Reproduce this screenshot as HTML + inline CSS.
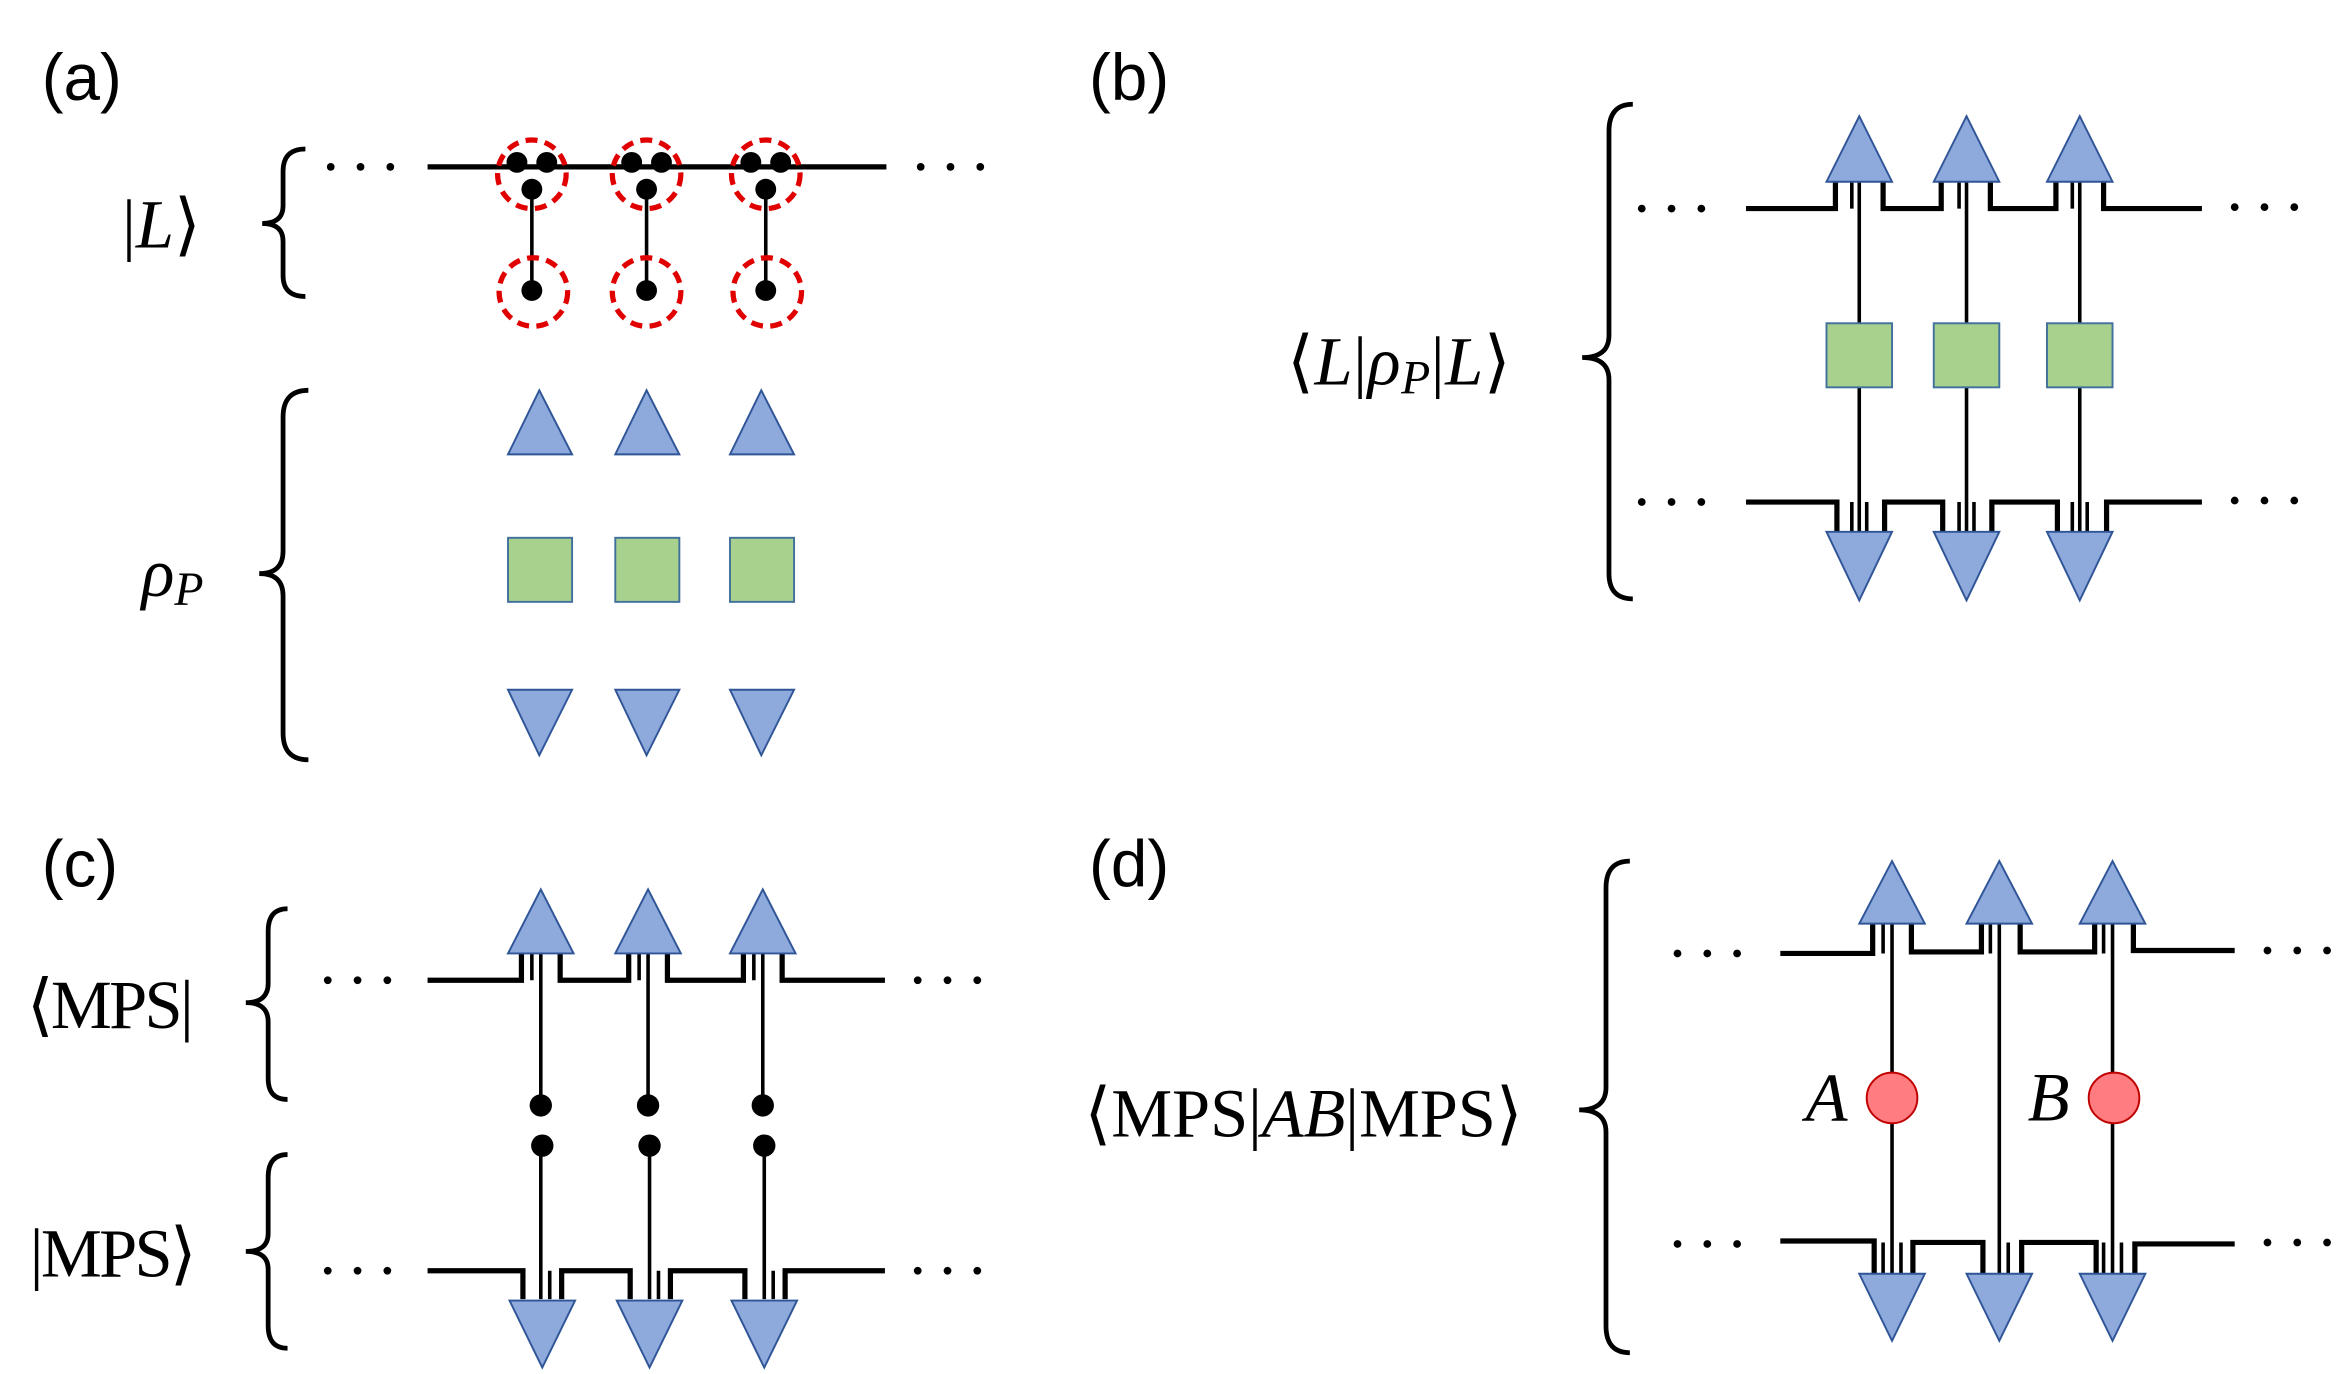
<!DOCTYPE html>
<html><head><meta charset="utf-8"><style>
html,body{margin:0;padding:0;background:#fff;}
svg{display:block;}
.lab{font-family:"Liberation Sans",sans-serif;font-size:44px;fill:#000;}
.m{font-family:"Liberation Serif",serif;font-size:46px;fill:#000;}
.w{fill:none;stroke:#000;stroke-width:3.5;}
.t{fill:none;stroke:#000;stroke-width:2.4;}
.br{fill:none;stroke:#000;stroke-width:3.2;}
.tri{fill:#8EA9DB;stroke:#2F5597;stroke-width:1.3;}
.sq{fill:#A9D18E;stroke:#41719C;stroke-width:1.3;}
.rc{fill:none;stroke:#E00000;stroke-width:3.5;stroke-dasharray:8 5;}
</style></head><body>
<svg width="2336" height="1374" viewBox="0 0 1568 922.3" preserveAspectRatio="none" xmlns="http://www.w3.org/2000/svg">
<defs>
<g id="dots"><circle cx="0" cy="0" r="2.6"/><circle cx="20" cy="0" r="2.6"/><circle cx="40" cy="0" r="2.6"/></g>
</defs>

<!-- (a) -->
<text class="lab" x="28" y="67">(a)</text>
<path class="br" d="M205 100 Q190 100 190 115 V138 Q190 150 176 150 Q190 150 190 162 V185 Q190 199 205 199"/>
<text class="m" x="82" y="166">|<tspan font-style="italic">L</tspan>⟩</text>
<use href="#dots" x="222" y="112"/><use href="#dots" x="618" y="112"/>
<path class="w" d="M287 112 L595 112"/>
<g>
 <path class="t" d="M357 128 V195 M434 128 V195 M514 128 V195"/>
 <circle cx="347" cy="109" r="7"/><circle cx="367" cy="109" r="7"/><circle cx="357" cy="127" r="7"/><circle cx="357" cy="195" r="7"/>
 <circle cx="424" cy="109" r="7"/><circle cx="444" cy="109" r="7"/><circle cx="434" cy="127" r="7"/><circle cx="434" cy="195" r="7"/>
 <circle cx="504" cy="109" r="7"/><circle cx="524" cy="109" r="7"/><circle cx="514" cy="127" r="7"/><circle cx="514" cy="195" r="7"/>
 <circle class="rc" cx="357" cy="117" r="23"/><circle class="rc" cx="434" cy="117" r="23"/><circle class="rc" cx="514" cy="117" r="23"/>
 <circle class="rc" cx="358" cy="196" r="23"/><circle class="rc" cx="434" cy="196" r="23"/><circle class="rc" cx="515" cy="196" r="23"/>
</g>
<path class="br" d="M207 262 Q190 262 190 280 V370 Q190 385 174 385 Q190 385 190 400 V492 Q190 510 207 510"/>
<text class="m" x="95" y="400"><tspan font-style="italic">ρ</tspan><tspan font-style="italic" font-size="32" dy="6">P</tspan></text>
<polygon class="tri" points="341,305 384,305 362,262"/>
<polygon class="tri" points="413,305 456,305 434,262"/>
<polygon class="tri" points="490,305 533,305 511,262"/>
<rect class="sq" x="341" y="361" width="43" height="43"/>
<rect class="sq" x="413" y="361" width="43" height="43"/>
<rect class="sq" x="490" y="361" width="43" height="43"/>
<polygon class="tri" points="341,463 384,463 362,507"/>
<polygon class="tri" points="413,463 456,463 434,507"/>
<polygon class="tri" points="490,463 533,463 511,507"/>

<!-- (b) -->
<text class="lab" x="731" y="67">(b)</text>
<path class="br" d="M1096 70 Q1080 70 1080 88 V225 Q1080 240 1062 240 Q1080 240 1080 255 V385 Q1080 402 1096 402"/>
<text class="m" x="864" y="258" textLength="150">⟨<tspan font-style="italic">L</tspan>|<tspan font-style="italic">ρ</tspan><tspan font-style="italic" font-size="32" dy="6">P</tspan><tspan dy="-6">|</tspan><tspan font-style="italic">L</tspan>⟩</text>
<use href="#dots" x="1102" y="140"/><use href="#dots" x="1500" y="139"/>
<use href="#dots" x="1102" y="337"/><use href="#dots" x="1500" y="336"/>
<path class="w" d="M1172 140 H1232 V122 M1264 122 V140 H1303 V122 M1336 122 V140 H1380 V122 M1412 122 V140 H1478"/>
<path class="w" d="M1172 337 H1233 V357 M1265 357 V337 H1304 V357 M1337 357 V337 H1381 V357 M1414 357 V337 H1478"/>
<path class="t" d="M1243 122 V140 M1248 122 V218 M1248 260 V357 M1253 337 V357 M1243 337 V357
 M1315 122 V140 M1320 122 V218 M1320 260 V357 M1325 337 V357 M1315 337 V357
 M1391 122 V140 M1396 122 V218 M1396 260 V357 M1401 337 V357 M1391 337 V357"/>
<polygon class="tri" points="1226,122 1270,122 1248,78"/>
<polygon class="tri" points="1298,122 1342,122 1320,78"/>
<polygon class="tri" points="1374,122 1418,122 1396,78"/>
<rect class="sq" x="1226" y="217" width="44" height="43"/>
<rect class="sq" x="1298" y="217" width="44" height="43"/>
<rect class="sq" x="1374" y="217" width="44" height="43"/>
<polygon class="tri" points="1226,357 1270,357 1248,403"/>
<polygon class="tri" points="1298,357 1342,357 1320,403"/>
<polygon class="tri" points="1374,357 1418,357 1396,403"/>

<!-- (c) -->
<text class="lab" x="28" y="595">(c)</text>
<path class="br" d="M193 610 Q180 610 180 625 V660 Q180 673 165 673 Q180 673 180 686 V724 Q180 738 193 738"/>
<text class="m" x="18" y="690" textLength="112">⟨MPS|</text>
<path class="br" d="M193 775 Q180 775 180 790 V828 Q180 840 165 840 Q180 840 180 852 V890 Q180 905 193 905"/>
<text class="m" x="20" y="857" textLength="112">|MPS⟩</text>
<use href="#dots" x="220" y="658"/><use href="#dots" x="616" y="658"/>
<use href="#dots" x="220" y="853"/><use href="#dots" x="616" y="853"/>
<path class="w" d="M287 658 H350 V640 M376 640 V658 H422 V640 M448 640 V658 H499 V640 M525 640 V658 H594"/>
<path class="w" d="M287 853 H351 V872 M377 872 V853 H423 V872 M450 872 V853 H500 V872 M527 872 V853 H594"/>
<path class="t" d="M357 640 V658 M363 640 V742 M435 640 V742 M429 640 V658 M512 640 V742 M506 640 V658
 M363 769 V872 M369 853 V872 M436 769 V872 M442 853 V872 M513 769 V872 M519 853 V872"/>
<polygon class="tri" points="341,640 385,640 363,597"/>
<polygon class="tri" points="413,640 457,640 435,597"/>
<polygon class="tri" points="490,640 534,640 512,597"/>
<circle cx="363" cy="742" r="7.5"/><circle cx="435" cy="742" r="7.5"/><circle cx="512" cy="742" r="7.5"/>
<circle cx="364" cy="769" r="7.5"/><circle cx="436" cy="769" r="7.5"/><circle cx="513" cy="769" r="7.5"/>
<polygon class="tri" points="342,873 386,873 364,918"/>
<polygon class="tri" points="414,873 458,873 436,918"/>
<polygon class="tri" points="491,873 535,873 513,918"/>

<!-- (d) -->
<text class="lab" x="731" y="595">(d)</text>
<path class="br" d="M1094 578 Q1078 578 1078 596 V730 Q1078 745 1060 745 Q1078 745 1078 760 V890 Q1078 908 1094 908"/>
<text class="m" x="728" y="763" textLength="294">⟨MPS|<tspan font-style="italic">AB</tspan>|MPS⟩</text>
<use href="#dots" x="1126" y="640"/><use href="#dots" x="1522" y="638"/>
<use href="#dots" x="1126" y="835"/><use href="#dots" x="1522" y="834"/>
<path class="w" d="M1195 640 H1257 V620 M1283 620 V639 H1330 V620 M1356 620 V639 H1406 V620 M1432 620 V638 H1500"/>
<path class="w" d="M1195 833 H1258 V855 M1284 855 V834 H1331 V855 M1357 855 V834 H1407 V855 M1433 855 V835 H1500"/>
<path class="t" d="M1264 620 V640 M1270 620 V720 M1270 754 V855 M1276 834 V855 M1264 834 V855
 M1336 620 V640 M1342 620 V855 M1348 834 V855
 M1412 620 V640 M1418 620 V720 M1418 754 V855 M1424 834 V855 M1412 834 V855"/>
<polygon class="tri" points="1248,620 1292,620 1270,578"/>
<polygon class="tri" points="1320,620 1364,620 1342,578"/>
<polygon class="tri" points="1396,620 1440,620 1418,578"/>
<circle cx="1270" cy="737" r="17" fill="#FF7C80" stroke="#C00000" stroke-width="1.3"/>
<circle cx="1419" cy="737" r="17" fill="#FF7C80" stroke="#C00000" stroke-width="1.3"/>
<text class="m" x="1212" y="752" font-style="italic">A</text>
<text class="m" x="1361" y="752" font-style="italic">B</text>
<polygon class="tri" points="1248,855 1292,855 1270,900"/>
<polygon class="tri" points="1320,855 1364,855 1342,900"/>
<polygon class="tri" points="1396,855 1440,855 1418,900"/>
</svg>
</body></html>
